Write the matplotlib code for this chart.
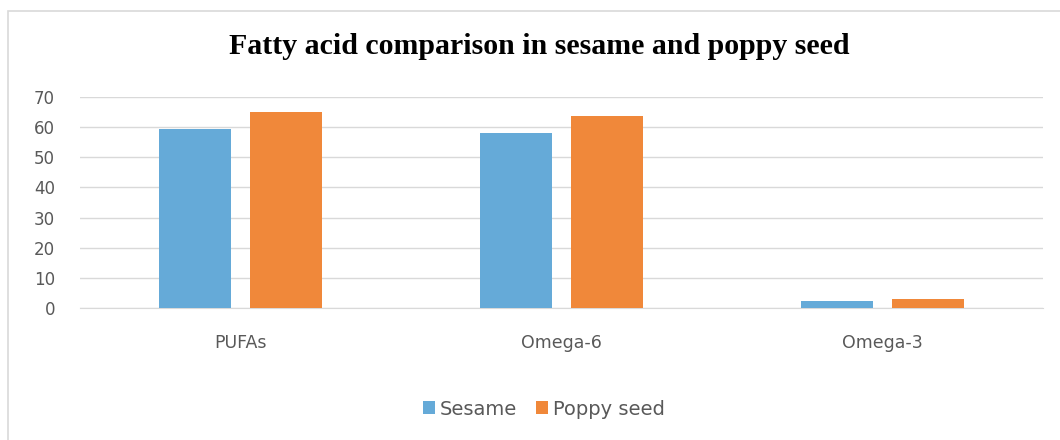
import matplotlib
matplotlib.use("Agg")
import matplotlib.pyplot as plt
import numpy as np
from matplotlib.patches import Rectangle

categories = ["PUFAs", "Omega-6", "Omega-3"]
sesame = [59.5, 58.2, 2.4]
poppy = [65.0, 63.8, 3.1]
series_names = ["Sesame", "Poppy seed"]
yticks = [0, 10, 20, 30, 40, 50, 60, 70]
title = "Fatty acid comparison in sesame and poppy seed"

blue = "#65aad8"
orange = "#f0883a"
text_gray = "#595959"
grid_gray = "#d9d9d9"

fig = plt.figure(figsize=(10.6, 4.4), dpi=100)
fig.patch.set_facecolor("white")

# light frame around the chart area
fig.patches.append(Rectangle((8 / 1060, -0.01), 1.05, 1 - 11 / 440 + 0.01,
                             transform=fig.transFigure, fill=False,
                             edgecolor="#d9d9d9", linewidth=1.2))

ax = fig.add_axes([80 / 1060, 1 - 308 / 440, (1043 - 80) / 1060, (308 - 97) / 440])

x = np.arange(len(categories))
w = 0.224
off = 0.142
ax.bar(x - off, sesame, width=w, color=blue, label=series_names[0], zorder=3)
ax.bar(x + off, poppy, width=w, color=orange, label=series_names[1], zorder=3)

ax.set_xlim(-0.5, len(categories) - 0.5)
ax.set_ylim(0, 70)
ax.set_yticks(yticks)
ax.set_xticks(x)
ax.set_xticklabels(categories)
ax.yaxis.grid(True, color=grid_gray, linewidth=1.0, zorder=0)
ax.set_axisbelow(True)
for s in ["top", "right", "left"]:
    ax.spines[s].set_visible(False)
ax.spines["bottom"].set_color(grid_gray)
ax.tick_params(axis="y", length=0, pad=18, labelsize=12, labelcolor=text_gray)
ax.tick_params(axis="x", length=0, pad=19, labelsize=12.5, labelcolor=text_gray)
for lab in ax.get_xticklabels() + ax.get_yticklabels():
    lab.set_family("DejaVu Sans")

fig.text(0.509, 1 - 47 / 440, title, ha="center", va="center",
         family="Liberation Serif", fontweight="bold", fontsize=21.5, color="#000000")

leg = fig.legend(loc="center", bbox_to_anchor=(0.513, 1 - 409 / 440), ncol=2,
                 frameon=False, handlelength=0.6, handleheight=0.6,
                 handletextpad=0.25, columnspacing=1.0,
                 prop={"family": "DejaVu Sans", "size": 14})
for t in leg.get_texts():
    t.set_color(text_gray)

fig.savefig("out.png", dpi=100)
